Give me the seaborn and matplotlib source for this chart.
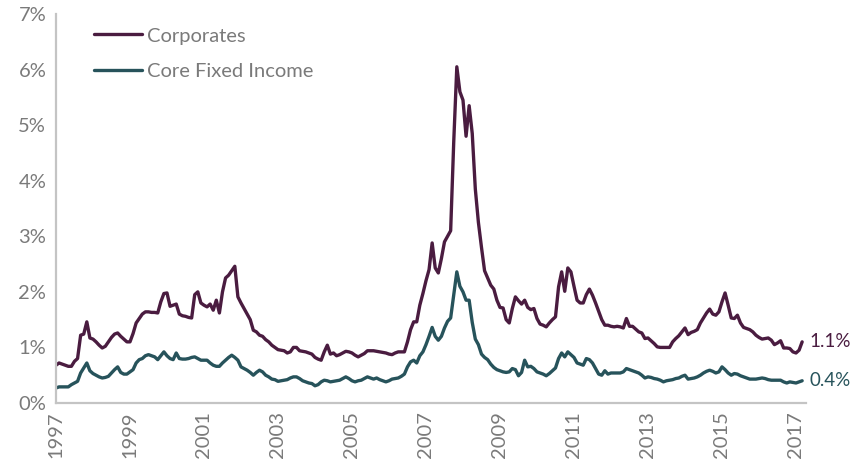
import numpy as np
import pandas as pd
import matplotlib
matplotlib.use("Agg")
import matplotlib.pyplot as plt
import seaborn as sns
from matplotlib.lines import Line2D
from matplotlib.ticker import FuncFormatter

# Monthly values (%), January 1997 through March 2017
corporates = [
    0.68, 0.72, 0.70, 0.68, 0.66, 0.66, 0.75, 0.80, 1.22, 1.24, 1.46, 1.17,  # 1997
    1.15, 1.10, 1.04, 0.99, 1.02, 1.10, 1.18, 1.24, 1.26, 1.20, 1.15, 1.10,  # 1998
    1.10, 1.25, 1.44, 1.52, 1.60, 1.64, 1.64, 1.63, 1.63, 1.62, 1.82, 1.97,  # 1999
    1.98, 1.74, 1.76, 1.78, 1.60, 1.57, 1.56, 1.54, 1.53, 1.95, 2.00, 1.80,  # 2000
    1.76, 1.73, 1.78, 1.67, 1.85, 1.62, 2.00, 2.25, 2.30, 2.38, 2.46, 1.91,  # 2001
    1.80, 1.70, 1.60, 1.50, 1.31, 1.28, 1.22, 1.20, 1.14, 1.10, 1.04, 1.00,  # 2002
    0.96, 0.95, 0.94, 0.90, 0.92, 1.00, 1.00, 0.94, 0.93, 0.92, 0.90, 0.88,  # 2003
    0.82, 0.79, 0.77, 0.92, 1.04, 0.88, 0.90, 0.85, 0.87, 0.90, 0.93, 0.92,  # 2004
    0.90, 0.86, 0.83, 0.86, 0.89, 0.94, 0.94, 0.94, 0.93, 0.92, 0.91, 0.90,  # 2005
    0.88, 0.87, 0.90, 0.92, 0.92, 0.92, 1.10, 1.32, 1.46, 1.46, 1.76, 1.97,  # 2006
    2.20, 2.40, 2.88, 2.43, 2.34, 2.60, 2.90, 3.00, 3.10, 4.70, 6.05, 5.60,  # 2007
    5.45, 4.80, 5.35, 4.85, 3.85, 3.25, 2.80, 2.38, 2.25, 2.12, 2.05, 1.85,  # 2008
    1.72, 1.71, 1.50, 1.44, 1.70, 1.91, 1.84, 1.78, 1.85, 1.72, 1.68, 1.70,  # 2009
    1.52, 1.42, 1.40, 1.37, 1.44, 1.50, 1.55, 2.09, 2.36, 2.01, 2.43, 2.36,  # 2010
    2.10, 1.85, 1.80, 1.80, 1.95, 2.05, 1.94, 1.80, 1.65, 1.50, 1.40, 1.40,  # 2011
    1.38, 1.37, 1.38, 1.37, 1.35, 1.52, 1.38, 1.38, 1.33, 1.28, 1.26, 1.16,  # 2012
    1.17, 1.12, 1.07, 1.01, 1.00, 1.00, 1.00, 1.00, 1.10, 1.16, 1.21, 1.28,  # 2013
    1.35, 1.23, 1.27, 1.29, 1.32, 1.44, 1.53, 1.62, 1.69, 1.60, 1.58, 1.64,  # 2014
    1.82, 1.98, 1.76, 1.53, 1.52, 1.58, 1.44, 1.36, 1.34, 1.32, 1.28, 1.22,  # 2015
    1.18, 1.15, 1.16, 1.17, 1.13, 1.05, 1.08, 1.12, 0.99, 0.99, 0.98, 0.92,  # 2016
    0.90, 0.95, 1.10,                                                        # 2017
]

core_fixed_income = [
    0.27, 0.29, 0.29, 0.29, 0.29, 0.33, 0.36, 0.39, 0.54, 0.63, 0.72, 0.58,  # 1997
    0.53, 0.50, 0.47, 0.45, 0.46, 0.48, 0.54, 0.60, 0.65, 0.55, 0.52, 0.52,  # 1998
    0.56, 0.60, 0.72, 0.78, 0.80, 0.85, 0.87, 0.85, 0.83, 0.78, 0.85, 0.92,  # 1999
    0.85, 0.80, 0.78, 0.90, 0.80, 0.79, 0.79, 0.80, 0.82, 0.83, 0.80, 0.77,  # 2000
    0.77, 0.77, 0.72, 0.68, 0.66, 0.66, 0.72, 0.77, 0.82, 0.86, 0.82, 0.77,  # 2001
    0.65, 0.62, 0.59, 0.55, 0.50, 0.55, 0.59, 0.56, 0.50, 0.47, 0.43, 0.42,  # 2002
    0.39, 0.40, 0.41, 0.42, 0.45, 0.47, 0.47, 0.44, 0.40, 0.38, 0.36, 0.35,  # 2003
    0.31, 0.33, 0.38, 0.41, 0.40, 0.38, 0.39, 0.40, 0.41, 0.44, 0.47, 0.44,  # 2004
    0.40, 0.38, 0.40, 0.41, 0.44, 0.47, 0.45, 0.43, 0.45, 0.42, 0.40, 0.38,  # 2005
    0.40, 0.43, 0.44, 0.45, 0.48, 0.52, 0.65, 0.74, 0.77, 0.72, 0.85, 0.92,  # 2006
    1.05, 1.20, 1.36, 1.20, 1.13, 1.20, 1.35, 1.47, 1.53, 1.95, 2.36, 2.10,  # 2007
    2.00, 1.85, 1.85, 1.45, 1.15, 1.05, 0.88, 0.82, 0.78, 0.70, 0.64, 0.60,  # 2008
    0.58, 0.56, 0.55, 0.56, 0.62, 0.60, 0.49, 0.55, 0.77, 0.65, 0.66, 0.62,  # 2009
    0.56, 0.54, 0.52, 0.49, 0.53, 0.58, 0.63, 0.80, 0.90, 0.83, 0.92, 0.87,  # 2010
    0.82, 0.72, 0.70, 0.68, 0.80, 0.78, 0.72, 0.62, 0.52, 0.50, 0.58, 0.52,  # 2011
    0.54, 0.54, 0.54, 0.54, 0.56, 0.62, 0.60, 0.58, 0.56, 0.54, 0.50, 0.45,  # 2012
    0.47, 0.46, 0.44, 0.43, 0.41, 0.38, 0.40, 0.41, 0.42, 0.44, 0.45, 0.48,  # 2013
    0.50, 0.43, 0.44, 0.45, 0.47, 0.50, 0.54, 0.57, 0.59, 0.57, 0.54, 0.56,  # 2014
    0.65, 0.60, 0.54, 0.50, 0.53, 0.52, 0.49, 0.47, 0.45, 0.43, 0.43, 0.43,  # 2015
    0.44, 0.45, 0.44, 0.42, 0.41, 0.41, 0.41, 0.41, 0.38, 0.36, 0.38, 0.37,  # 2016
    0.36, 0.38, 0.40,                                                        # 2017
]

series_names = ["Corporates", "Core Fixed Income"]
start_year = 1997
tick_years = list(range(1997, 2018, 2))
y_ticks = list(range(0, 8))

colors = {"Corporates": "#4a1c40", "Core Fixed Income": "#27535b"}
grey_text = "#7a7a7a"
spine_grey = "#c4c4c4"
font_size = 14.5
end_label_size = 13.5

n = len(corporates)
dates = start_year + np.arange(n) / 12.0
df = pd.DataFrame({
    "date": np.concatenate([dates, dates]),
    "value": corporates + core_fixed_income,
    "series": [series_names[0]] * n + [series_names[1]] * n,
})

sns.set_style("white")
plt.rcParams["font.family"] = ["Lato", "DejaVu Sans"]

fig = plt.figure(figsize=(8.52, 4.63), dpi=100)
ax = fig.add_axes([0.0657, 0.1296, 0.8803, 0.8402])

sns.lineplot(data=df, x="date", y="value", hue="series", palette=colors,
             estimator=None, linewidth=2.4, legend=False, ax=ax)

ax.set_xlim(start_year, start_year + 750 / 37.0)
ax.set_ylim(0, 7)
ax.set_xticks(tick_years)
ax.set_xticklabels([str(y) for y in tick_years], rotation=90,
                   fontsize=font_size, color=grey_text)
ax.set_yticks(y_ticks)
ax.yaxis.set_major_formatter(FuncFormatter(lambda v, _: f"{v:.0f}%"))
for lbl in ax.get_yticklabels():
    lbl.set_fontsize(font_size)
    lbl.set_color(grey_text)
ax.tick_params(axis="both", length=0)
ax.tick_params(axis="x", pad=6)
ax.tick_params(axis="y", pad=7)
ax.set_xlabel("")
ax.set_ylabel("")

for side in ("top", "right"):
    ax.spines[side].set_visible(False)
for side in ("left", "bottom"):
    ax.spines[side].set_color(spine_grey)
    ax.spines[side].set_linewidth(1.6)

handles = [Line2D([0], [0], color=colors[s], linewidth=2.4) for s in series_names]
ax.legend(handles, series_names, loc="upper left", bbox_to_anchor=(0.027, 1.012),
          frameon=False, handlelength=2.35, handletextpad=0.25, labelspacing=0.92,
          prop={"size": font_size}, labelcolor=grey_text)

for name, vals in (("Corporates", corporates), ("Core Fixed Income", core_fixed_income)):
    ax.annotate(f"{vals[-1]:.1f}%", xy=(dates[-1], vals[-1]), xytext=(5, 0),
                textcoords="offset points", va="center", ha="left",
                fontsize=end_label_size, color=colors[name], annotation_clip=False)

fig.savefig("out.png", dpi=100)
